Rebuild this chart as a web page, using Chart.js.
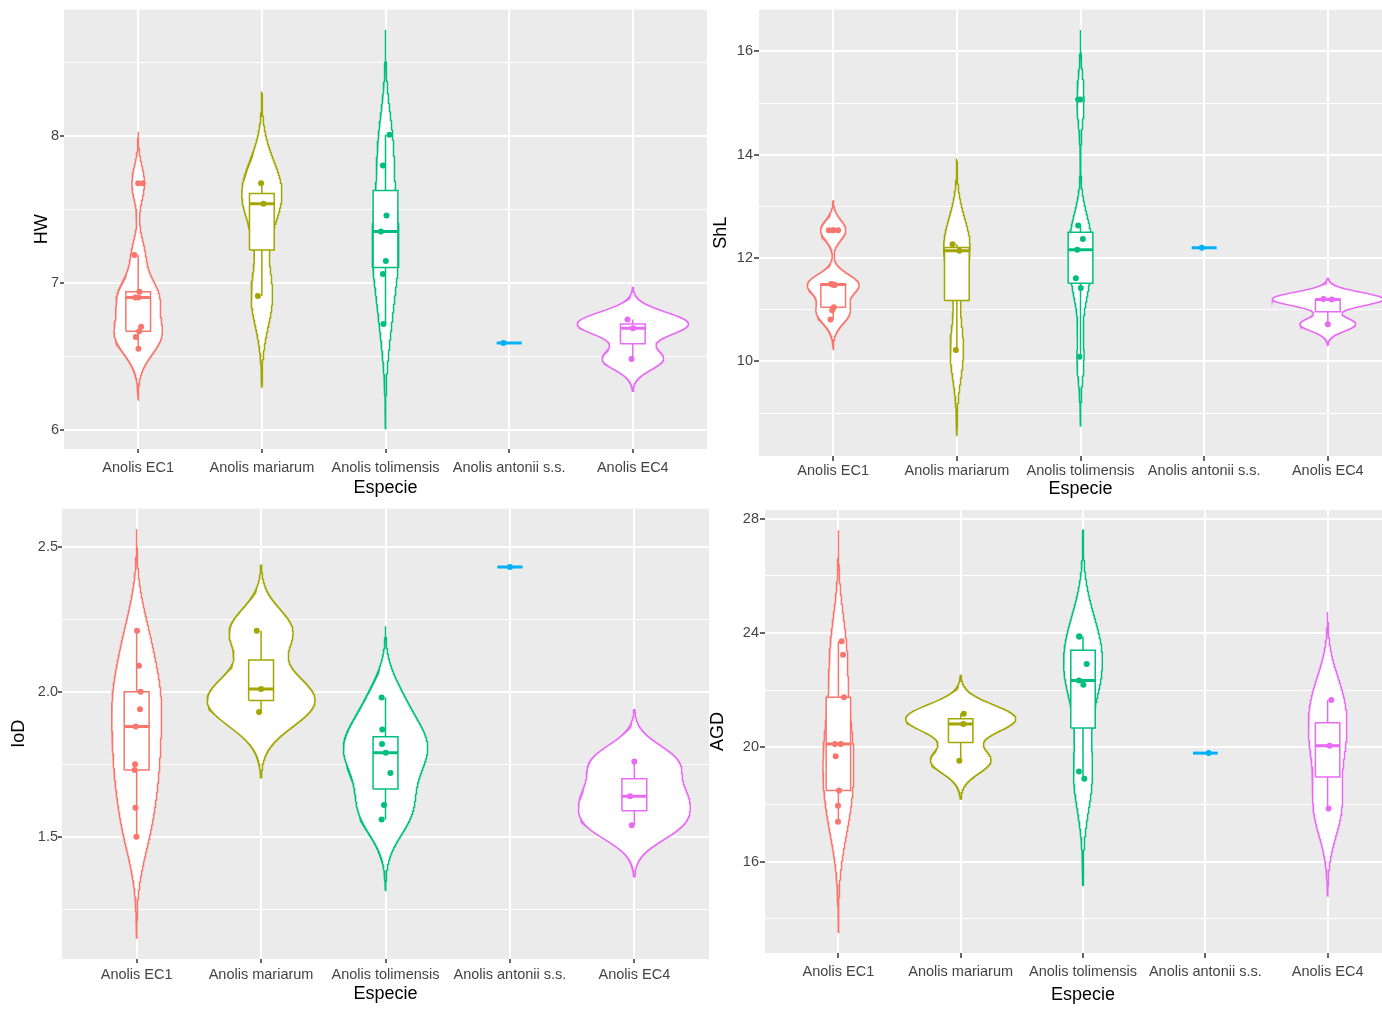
<!DOCTYPE html>
<html>
<head>
<meta charset="utf-8">
<script src="https://cdn.jsdelivr.net/npm/chart.js@4.4.1/dist/chart.umd.min.js"></script>
<style>
  html, body { margin: 0; padding: 0; background: #ffffff; }
  body { width: 1382px; height: 1009px; overflow: hidden; position: relative; }
  canvas { position: absolute; }
</style>
</head>
<body>
<canvas id="hw"></canvas>
<canvas id="shl"></canvas>
<canvas id="iod"></canvas>
<canvas id="agd"></canvas>
<script>
// Species shown on every panel, in plotting order
const categories = ['Anolis EC1', 'Anolis mariarum', 'Anolis tolimensis', 'Anolis antonii s.s.', 'Anolis EC4'];
const colours = ['#F8766D', '#A3A500', '#00BF7D', '#00B0F6', '#E76BF3'];

// HW measurements per species
const hwValues = [
  [7.68, 7.19, 6.94, 6.90, 6.90, 6.70, 6.67, 6.63, 6.55],
  [7.68, 7.54, 6.91],
  [8.01, 7.80, 7.46, 7.35, 7.15, 7.06, 6.72],
  [6.59],
  [6.75, 6.69, 6.48]
];
const hwJitter = [
  [0.038, -0.030, 0.010, 0.002, -0.024, 0.024, 0.008, -0.019, 0.002],
  [-0.006, 0.013, -0.032],
  [0.032, -0.021, 0.008, -0.037, 0.003, -0.021, -0.016],
  [-0.046],
  [-0.043, 0.002, -0.010]
];
const hwTicks = [6, 7, 8];

// ShL measurements per species
const shlValues = [
  [12.54, 12.54, 11.50, 11.49, 11.49, 11.48, 11.05, 10.99, 10.81],
  [12.27, 12.14, 10.22],
  [15.07, 12.63, 12.37, 12.16, 11.61, 11.42, 10.09],
  [12.20],
  [11.21, 11.20, 10.72]
];
const shlJitter = [
  [-0.035, 0.040, -0.016, 0.005, -0.008, 0.012, 0.005, -0.008, -0.022],
  [-0.035, 0.021, -0.008],
  [-0.019, -0.019, 0.019, -0.027, -0.038, 0.002, -0.008],
  [-0.019],
  [-0.035, 0.032, 0.000]
];
const shlTicks = [10, 12, 14, 16];

// IoD measurements per species
const iodValues = [
  [2.21, 2.09, 2.00, 1.94, 1.88, 1.75, 1.73, 1.60, 1.50],
  [2.21, 2.01, 1.93],
  [1.98, 1.87, 1.82, 1.79, 1.72, 1.61, 1.56],
  [2.43],
  [1.76, 1.64, 1.54]
];
const iodJitter = [
  [0.003, 0.019, 0.032, 0.027, -0.008, -0.013, -0.016, -0.010, -0.002],
  [-0.035, 0.000, -0.016],
  [-0.031, -0.026, -0.028, 0.002, 0.039, -0.012, -0.031],
  [0.000],
  [0.000, -0.035, -0.021]
];
const iodTicks = [1.5, 2.0, 2.5];

// AGD measurements per species
const agdValues = [
  [23.71, 23.24, 21.75, 20.12, 20.12, 19.69, 18.49, 17.96, 17.40],
  [21.18, 20.82, 19.53],
  [23.88, 23.88, 22.92, 22.34, 22.19, 19.16, 18.90],
  [19.80],
  [21.66, 20.06, 17.86]
];
const agdJitter = [
  [0.027, 0.038, 0.046, -0.028, 0.021, -0.022, 0.005, -0.003, -0.003],
  [0.025, 0.022, -0.011],
  [-0.033, -0.029, 0.030, -0.033, 0.003, -0.033, 0.011],
  [0.027],
  [0.030, 0.016, 0.008]
];
const agdTicks = [16, 20, 24, 28];

// ---- statistics helpers (quantile type 7, nrd0 bandwidth, gaussian KDE) ----
function quantile7(sorted, p) {
  const h = (sorted.length - 1) * p;
  const i = Math.floor(h);
  if (i + 1 >= sorted.length) return sorted[i];
  return sorted[i] + (h - i) * (sorted[i + 1] - sorted[i]);
}
function bwNrd0(v) {
  const n = v.length;
  const s = [...v].sort((a, b) => a - b);
  const mean = v.reduce((a, b) => a + b, 0) / n;
  const sd = Math.sqrt(v.reduce((a, b) => a + (b - mean) ** 2, 0) / (n - 1));
  const iqr = quantile7(s, 0.75) - quantile7(s, 0.25);
  let lo = Math.min(sd, iqr / 1.34);
  if (!(lo > 0)) lo = sd || 1;
  return 0.9 * lo * Math.pow(n, -0.2);
}
function kde(v, n = 512) {
  const bw = bwNrd0(v);
  const from = Math.min(...v) - 3 * bw;
  const to = Math.max(...v) + 3 * bw;
  const ys = [], ds = [];
  const norm = 1 / (v.length * bw * Math.sqrt(2 * Math.PI));
  for (let k = 0; k < n; k++) {
    const y = from + (to - from) * k / (n - 1);
    let d = 0;
    for (const x of v) { const z = (y - x) / bw; d += Math.exp(-0.5 * z * z); }
    ys.push(y); ds.push(d * norm);
  }
  return { ys, ds, from, to };
}
function boxStats(v) {
  const s = [...v].sort((a, b) => a - b);
  const q1 = quantile7(s, 0.25), med = quantile7(s, 0.5), q3 = quantile7(s, 0.75);
  const iqr = q3 - q1;
  const lo = q1 - 1.5 * iqr, hi = q3 + 1.5 * iqr;
  const inside = s.filter(x => x >= lo && x <= hi);
  return { q1, med, q3, wLo: Math.min(...inside), wHi: Math.max(...inside),
           outliers: s.filter(x => x < lo || x > hi) };
}

// ---- datasets: violin, boxplot and jittered points for each species ----
function buildPanel(values, jitter) {
  const dens = values.map(v => (v.length > 1 ? kde(v) : null));
  const maxD = Math.max(...dens.filter(Boolean).map(d => Math.max(...d.ds)));
  let lo = Infinity, hi = -Infinity;
  const sets = [];
  const seg = (pts, col, w, order, extra) => sets.push(Object.assign({
    data: pts.map(p => ({ x: p[0], y: p[1] })), showLine: true, fill: false,
    borderColor: col, borderWidth: w, pointRadius: 0, tension: 0, order
  }, extra || {}));

  values.forEach((v, g) => {
    const c = g + 1, col = colours[g];
    const d = dens[g];
    if (d) {
      lo = Math.min(lo, d.from); hi = Math.max(hi, d.to);
      const pts = [];
      for (let k = 0; k < d.ys.length; k++) pts.push([c + 0.45 * d.ds[k] / maxD, d.ys[k]]);
      for (let k = d.ys.length - 1; k >= 0; k--) pts.push([c - 0.45 * d.ds[k] / maxD, d.ys[k]]);
      pts.push(pts[0]);
      seg(pts, col, 1.5, 5, { fill: 'shape', backgroundColor: '#ffffff' });
    } else {
      lo = Math.min(lo, ...v); hi = Math.max(hi, ...v);
    }
    const b = boxStats(v);
    seg([[c, b.q3], [c, b.wHi]], col, 1.5, 4);
    seg([[c, b.q1], [c, b.wLo]], col, 1.5, 4);
    seg([[c - 0.1, b.q1], [c + 0.1, b.q1], [c + 0.1, b.q3], [c - 0.1, b.q3], [c - 0.1, b.q1]],
        col, 1.5, 3, { fill: 'shape', backgroundColor: '#ffffff' });
    seg([[c - 0.1, b.med], [c + 0.1, b.med]], col, 3, 2);
    if (b.outliers.length) {
      sets.push({ data: b.outliers.map(y => ({ x: c, y })), pointRadius: 3,
                  pointBackgroundColor: col, pointBorderWidth: 0, borderColor: col, order: 1 });
    }
    sets.push({ data: v.map((y, i) => ({ x: c + jitter[g][i], y })), pointRadius: 3,
                pointBackgroundColor: col, pointBorderWidth: 0, borderColor: col, order: 0 });
  });
  const pad = (hi - lo) * 0.05;
  return { sets, min: lo - pad, max: hi + pad };
}

const panelBackground = {
  id: 'panelBackground',
  beforeDraw(chart) {
    const a = chart.chartArea, ctx = chart.ctx;
    ctx.save();
    ctx.fillStyle = '#EBEBEB';
    ctx.fillRect(a.left, a.top, a.right - a.left, a.bottom - a.top);
    ctx.restore();
  }
};

Chart.defaults.font.family = "'Liberation Sans', Arial, sans-serif";

function drawPanel(p) {
  const canvas = document.getElementById(p.id);
  canvas.width = p.width; canvas.height = p.height;
  canvas.style.left = p.left + 'px'; canvas.style.top = p.top + 'px';
  canvas.style.width = p.width + 'px'; canvas.style.height = p.height + 'px';

  const built = buildPanel(p.values, p.jitter);
  const step = p.ticks[1] - p.ticks[0];
  const tickList = [];
  for (let t = p.ticks[0] - step / 2; t <= p.ticks[p.ticks.length - 1] + step / 2 + 1e-9; t += step / 2) {
    const v = Math.round(t * 1000) / 1000;
    if (v >= built.min && v <= built.max) tickList.push(v);
  }
  const isMajor = v => p.ticks.some(m => Math.abs(m - v) < 1e-6);

  new Chart(canvas, {
    type: 'scatter',
    data: { datasets: built.sets },
    plugins: [panelBackground],
    options: {
      responsive: false,
      devicePixelRatio: 1,
      animation: false,
      events: [],
      layout: { padding: { top: p.padTop, right: p.padRight, left: 0, bottom: 0 } },
      plugins: { legend: { display: false }, tooltip: { enabled: false } },
      scales: {
        x: {
          type: 'linear', min: 0.4, max: 5.6, bounds: 'data',
          afterBuildTicks: s => { s.ticks = categories.map((_, i) => ({ value: i + 1 })); },
          afterFit: s => { s.height = p.xAxisHeight; },
          border: { display: false },
          grid: { color: '#ffffff', lineWidth: 2, tickColor: '#333333', tickLength: p.tickLen, tickWidth: 1.5 },
          ticks: { autoSkip: false, maxRotation: 0, minRotation: 0, padding: p.xLabelPad,
                   color: '#444444', font: { size: 14.5 }, callback: (v, i) => categories[i] },
          title: { display: true, text: 'Especie', color: '#000000', font: { size: 18 },
                   padding: { top: 0, bottom: p.xTitlePad } }
        },
        y: {
          type: 'linear', min: built.min, max: built.max, bounds: 'data',
          afterBuildTicks: s => { s.ticks = tickList.map(v => ({ value: v })); },
          afterFit: s => { s.width = p.yAxisWidth; },
          border: { display: false },
          grid: {
            color: '#ffffff',
            lineWidth: ctx => (isMajor(ctx.tick.value) ? 2 : 1),
            tickColor: ctx => (isMajor(ctx.tick.value) ? '#333333' : 'rgba(0,0,0,0)'),
            tickLength: p.tickLen, tickWidth: 1.5
          },
          ticks: { padding: p.yLabelPad, color: '#444444', font: { size: 14.5 },
                   callback: v => (isMajor(v) ? Number(v).toFixed(p.decimals) : '') },
          title: { display: true, text: p.title, color: '#000000', font: { size: 18 },
                   padding: { top: p.yTitlePad, bottom: 0 } }
        }
      }
    }
  });
}

drawPanel({ id: 'hw', values: hwValues, jitter: hwJitter, ticks: hwTicks, decimals: 0, title: 'HW',
  left: 0, top: 0, width: 720, height: 505, yAxisWidth: 64, xAxisHeight: 56, padTop: 5, padRight: 13,
  xLabelPad: 6, xTitlePad: 6, yTitlePad: 31, yLabelPad: 1, tickLen: 4 });
drawPanel({ id: 'shl', values: shlValues, jitter: shlJitter, ticks: shlTicks, decimals: 0, title: 'ShL',
  left: 690, top: 0, width: 720, height: 505, yAxisWidth: 69, xAxisHeight: 49, padTop: 7, padRight: 8,
  xLabelPad: 1, xTitlePad: 5, yTitlePad: 20, yLabelPad: 1, tickLen: 5 });
drawPanel({ id: 'iod', values: iodValues, jitter: iodJitter, ticks: iodTicks, decimals: 1, title: 'IoD',
  left: 0, top: 500, width: 720, height: 509, yAxisWidth: 62, xAxisHeight: 50, padTop: 5, padRight: 11,
  xLabelPad: 3, xTitlePad: 4, yTitlePad: 8, yLabelPad: 0, tickLen: 4 });
drawPanel({ id: 'agd', values: agdValues, jitter: agdJitter, ticks: agdTicks, decimals: 0, title: 'AGD',
  left: 690, top: 500, width: 720, height: 509, yAxisWidth: 75, xAxisHeight: 56, padTop: 10, padRight: 9,
  xLabelPad: 5, xTitlePad: 3, yTitlePad: 17, yLabelPad: 1, tickLen: 5 });
</script>
</body>
</html>
